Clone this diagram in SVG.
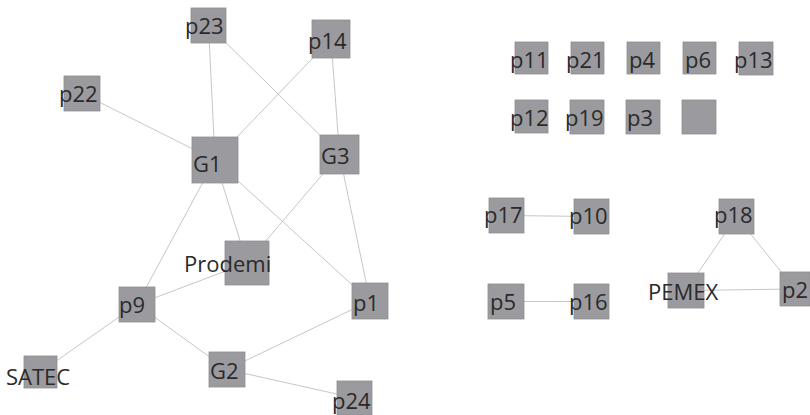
<svg xmlns="http://www.w3.org/2000/svg" width="810" height="415" viewBox="0 0 810 415">
<style>
.n rect{fill:#9b9b9f;stroke:#8e8e92;stroke-width:0.8}
.n text{font-family:"Open Sans","Noto Sans",sans-serif;font-size:22px;fill:#2a2a2a}
#edges line{stroke:#c6c6c6;stroke-width:1}
</style>
<rect width="810" height="415" fill="#ffffff"/>
<g id="edges">
<line x1="208.5" y1="25.5" x2="215" y2="160"/>
<line x1="208.5" y1="25.5" x2="339.5" y2="154.5"/>
<line x1="331" y1="39" x2="215" y2="160"/>
<line x1="331" y1="39" x2="339.5" y2="154.5"/>
<line x1="82" y1="93.5" x2="215" y2="160"/>
<line x1="215" y1="160" x2="137" y2="304.5"/>
<line x1="215" y1="160" x2="247" y2="263"/>
<line x1="215" y1="160" x2="370" y2="301"/>
<line x1="339.5" y1="154.5" x2="247" y2="263"/>
<line x1="339.5" y1="154.5" x2="370" y2="301"/>
<line x1="247" y1="263" x2="137" y2="304.5"/>
<line x1="137" y1="304.5" x2="40.5" y2="372"/>
<line x1="137" y1="304.5" x2="227" y2="369.5"/>
<line x1="227" y1="369.5" x2="370" y2="301"/>
<line x1="227" y1="369.5" x2="354.5" y2="398"/>
<line x1="506.5" y1="215.5" x2="591.5" y2="216.5"/>
<line x1="506" y1="301.5" x2="591.5" y2="301.5"/>
<line x1="736.5" y1="216.5" x2="686" y2="290.5"/>
<line x1="736.5" y1="216.5" x2="795" y2="289"/>
<line x1="686" y1="290.5" x2="795" y2="289"/>
</g>
<g id="p23" class="n"><rect x="191" y="8" width="35" height="35"/><text x="185" y="34">p23</text></g>
<g id="p14" class="n"><rect x="312" y="20" width="38" height="38"/><text x="308" y="49">p14</text></g>
<g id="p22" class="n"><rect x="64" y="76" width="36" height="35"/><text x="59" y="102">p22</text></g>
<g id="G1" class="n"><rect x="192" y="137" width="46" height="46"/><text x="193" y="172">G1</text></g>
<g id="G3" class="n"><rect x="320" y="135" width="39" height="39"/><text x="321" y="164">G3</text></g>
<g id="Prodemi" class="n"><rect x="225" y="241" width="44" height="44"/><text x="184" y="272">Prodemi</text></g>
<g id="p9" class="n"><rect x="119" y="287" width="36" height="35"/><text x="119" y="313">p9</text></g>
<g id="p1" class="n"><rect x="352" y="283" width="36" height="36"/><text x="353" y="311">p1</text></g>
<g id="SATEC" class="n"><rect x="24" y="356" width="33" height="32"/><text x="6" y="385">SATEC</text></g>
<g id="G2" class="n"><rect x="209" y="352" width="36" height="35"/><text x="210" y="379">G2</text></g>
<g id="p24" class="n"><rect x="337" y="381" width="35" height="34"/><text x="332" y="409">p24</text></g>
<g id="p11" class="n"><rect x="515" y="42" width="33" height="32"/><text x="510" y="68">p11</text></g>
<g id="p21" class="n"><rect x="571" y="42" width="33" height="32"/><text x="566" y="68">p21</text></g>
<g id="p4" class="n"><rect x="627" y="42" width="33" height="32"/><text x="629" y="68">p4</text></g>
<g id="p6" class="n"><rect x="683" y="42" width="33" height="32"/><text x="685" y="68">p6</text></g>
<g id="p13" class="n"><rect x="739" y="42" width="34" height="33"/><text x="734" y="68">p13</text></g>
<g id="p12" class="n"><rect x="515" y="100" width="33" height="33"/><text x="510" y="126">p12</text></g>
<g id="p19" class="n"><rect x="570" y="100" width="34" height="34"/><text x="565" y="126">p19</text></g>
<g id="p3" class="n"><rect x="626" y="100" width="34" height="34"/><text x="627" y="126">p3</text></g>
<g id="blank" class="n"><rect x="682" y="100" width="34" height="34"/></g>
<g id="p17" class="n"><rect x="489" y="198" width="35" height="35"/><text x="484" y="223">p17</text></g>
<g id="p10" class="n"><rect x="574" y="199" width="35" height="35"/><text x="569" y="224">p10</text></g>
<g id="p18" class="n"><rect x="719" y="199" width="35" height="35"/><text x="714" y="223">p18</text></g>
<g id="p5" class="n"><rect x="488" y="284" width="36" height="35"/><text x="490" y="310">p5</text></g>
<g id="p16" class="n"><rect x="574" y="284" width="35" height="35"/><text x="569" y="310">p16</text></g>
<g id="PEMEX" class="n"><rect x="668" y="273" width="36" height="35"/><text x="648" y="300">PEMEX</text></g>
<g id="p2" class="n"><rect x="780" y="272" width="30" height="34"/><text x="782" y="298">p2</text></g>
</svg>
